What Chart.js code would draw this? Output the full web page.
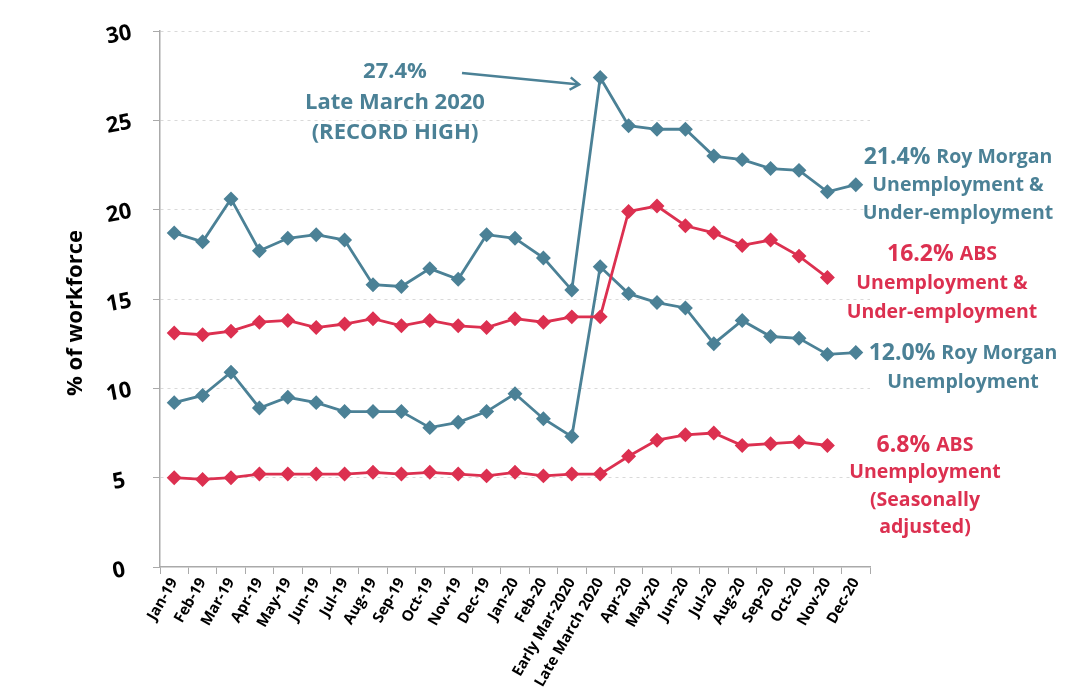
<!DOCTYPE html>
<html>
<head>
<meta charset="utf-8">
<script src="https://cdn.jsdelivr.net/npm/chart.js@4"></script>
<style>
  html, body { margin: 0; padding: 0; background: #fff; }
  #wrap { width: 1068px; height: 697px; }
</style>
</head>
<body>
<div id="wrap"><canvas id="chart"></canvas></div>
<script>
const months = ["Jan-19", "Feb-19", "Mar-19", "Apr-19", "May-19", "Jun-19", "Jul-19", "Aug-19", "Sep-19", "Oct-19", "Nov-19", "Dec-19",
  "Jan-20", "Feb-20", "Early Mar-2020", "Late March 2020", "Apr-20", "May-20", "Jun-20", "Jul-20", "Aug-20", "Sep-20", "Oct-20", "Nov-20", "Dec-20"];

const rmUnderUnemp = [18.7, 18.2, 20.6, 17.7, 18.4, 18.6, 18.3, 15.8, 15.7, 16.7, 16.1, 18.6,
  18.4, 17.3, 15.5, 27.4, 24.7, 24.5, 24.5, 23.0, 22.8, 22.3, 22.2, 21.0, 21.4];
const absUnderUnemp = [13.1, 13.0, 13.2, 13.7, 13.8, 13.4, 13.6, 13.9, 13.5, 13.8, 13.5, 13.4,
  13.9, 13.7, 14.0, 14.0, 19.9, 20.2, 19.1, 18.7, 18.0, 18.3, 17.4, 16.2, null];
const rmUnemp = [9.2, 9.6, 10.9, 8.9, 9.5, 9.2, 8.7, 8.7, 8.7, 7.8, 8.1, 8.7,
  9.7, 8.3, 7.3, 16.8, 15.3, 14.8, 14.5, 12.5, 13.8, 12.9, 12.8, 11.9, 12.0];
const absUnemp = [5.0, 4.9, 5.0, 5.2, 5.2, 5.2, 5.2, 5.3, 5.2, 5.3, 5.2, 5.1,
  5.3, 5.1, 5.2, 5.2, 6.2, 7.1, 7.4, 7.5, 6.8, 6.9, 7.0, 6.8, null];

const yTicks = [0, 5, 10, 15, 20, 25, 30];

const TEAL = "#4b8196";
const RED = "#dc3050";
const FONT = "'Open Sans', Lato, sans-serif";

function series(label, data, color) {
  return {
    label, data,
    borderColor: color,
    backgroundColor: color,
    borderWidth: 2.8,
    pointStyle: "rectRot",
    pointRadius: 5.5,
    pointHoverRadius: 5.5,
    tension: 0
  };
}

// text blocks on the right: lines as [big part, normal part], centre offset from chart right, first line y, line step
const sideLabels = [
  { lines: [["21.4% ", "Roy Morgan"], ["", "Unemployment &"], ["", "Under-employment"]], color: TEAL, dx: 88, y: 157, step: 28 },
  { lines: [["16.2% ", "ABS"], ["", "Unemployment &"], ["", "Under-employment"]], color: RED, dx: 72, y: 254, step: 29 },
  { lines: [["12.0% ", "Roy Morgan"], ["", "Unemployment"]], color: TEAL, dx: 93, y: 353, step: 29 },
  { lines: [["6.8% ", "ABS"], ["", "Unemployment"], ["", "(Seasonally"], ["", "adjusted)"]], color: RED, dx: 55, y: 445, step: 27.5 }
];

const decorations = {
  id: "decorations",
  afterDraw(chart) {
    const { ctx, chartArea, scales } = chart;
    const x = scales.x, y = scales.y;
    ctx.save();

    // y tick labels, slightly tilted
    ctx.fillStyle = "#000";
    ctx.font = "bold 22px " + FONT;
    ctx.textAlign = "center";
    ctx.textBaseline = "middle";
    yTicks.forEach(v => {
      ctx.save();
      ctx.translate(chartArea.left - 41, y.getPixelForValue(v) + 4);
      ctx.rotate(-11 * Math.PI / 180);
      ctx.fillText(String(v), 0, 0);
      ctx.restore();
    });

    // y title
    ctx.save();
    ctx.translate(76, (chartArea.top + chartArea.bottom) / 2 + 14);
    ctx.rotate(-Math.PI / 2);
    ctx.font = "bold 22px " + FONT;
    ctx.fillText("% of workforce", 0, 0);
    ctx.restore();

    // record high annotation
    ctx.fillStyle = TEAL;
    ctx.font = "bold 22px " + FONT;
    ctx.fillText("27.4%", 395, 72);
    ctx.fillText("Late March 2020", 395, 102.5);
    ctx.fillText("(RECORD HIGH)", 395, 133);

    const ex = x.getPixelForValue(15) - 21;
    const ey = y.getPixelForValue(27.4) + 7;
    const sx = 462, sy = 73;
    ctx.strokeStyle = TEAL;
    ctx.lineWidth = 2.5;
    ctx.beginPath();
    ctx.moveTo(sx, sy);
    ctx.lineTo(ex, ey);
    ctx.stroke();
    const ang = Math.atan2(ey - sy, ex - sx);
    ctx.beginPath();
    ctx.moveTo(ex - 11 * Math.cos(ang - 0.6), ey - 11 * Math.sin(ang - 0.6));
    ctx.lineTo(ex, ey);
    ctx.lineTo(ex - 11 * Math.cos(ang + 0.6), ey - 11 * Math.sin(ang + 0.6));
    ctx.stroke();

    // side labels
    ctx.textBaseline = "middle";
    const big = "bold 23px " + FONT;
    const small = "bold 19.5px " + FONT;
    sideLabels.forEach(block => {
      ctx.fillStyle = block.color;
      const cx = chartArea.right + block.dx;
      block.lines.forEach((parts, i) => {
        ctx.font = big;
        const w1 = ctx.measureText(parts[0]).width;
        ctx.font = small;
        const w2 = ctx.measureText(parts[1]).width;
        const left = cx - (w1 + w2) / 2;
        const ly = block.y + i * block.step;
        ctx.textAlign = "left";
        ctx.font = big;
        ctx.fillText(parts[0], left, ly);
        ctx.font = small;
        ctx.fillText(parts[1], left + w1, ly);
      });
    });

    ctx.restore();
  }
};

new Chart(document.getElementById("chart"), {
  type: "line",
  data: {
    labels: months,
    datasets: [
      series("Roy Morgan Unemployment & Under-employment", rmUnderUnemp, TEAL),
      series("ABS Unemployment & Under-employment", absUnderUnemp, RED),
      series("Roy Morgan Unemployment", rmUnemp, TEAL),
      series("ABS Unemployment (Seasonally adjusted)", absUnemp, RED)
    ]
  },
  options: {
    responsive: true,
    maintainAspectRatio: false,
    animation: false,
    layout: { padding: { left: 0, right: 198, top: 31, bottom: 0 } },
    plugins: {
      legend: { display: false },
      tooltip: { enabled: false }
    },
    scales: {
      x: {
        offset: true,
        grid: { display: true, drawOnChartArea: false, drawTicks: true, tickLength: 7, color: "#aaa", offset: true },
        border: { display: true, color: "#aaa", width: 1.5 },
        ticks: {
          autoSkip: false,
          minRotation: 60,
          maxRotation: 60,
          padding: 1,
          color: "#000",
          font: { family: FONT, size: 15, weight: "bold" }
        },
        afterFit(scale) { scale.height = 130; }
      },
      y: {
        min: 0,
        max: 30,
        afterBuildTicks(scale) { scale.ticks = yTicks.map(v => ({ value: v })); },
        grid: {
          color: ctx => ctx.tick && ctx.tick.value === 0 ? "rgba(0,0,0,0)" : "#d9d9d9",
          tickColor: "#aaa",
          tickLength: 7,
          lineWidth: 1
        },
        border: { display: true, color: "#aaa", width: 1.5, dash: [3, 4] },
        ticks: { display: false },
        afterFit(scale) { scale.width = 160; }
      }
    }
  },
  plugins: [decorations]
});
</script>
</body>
</html>
